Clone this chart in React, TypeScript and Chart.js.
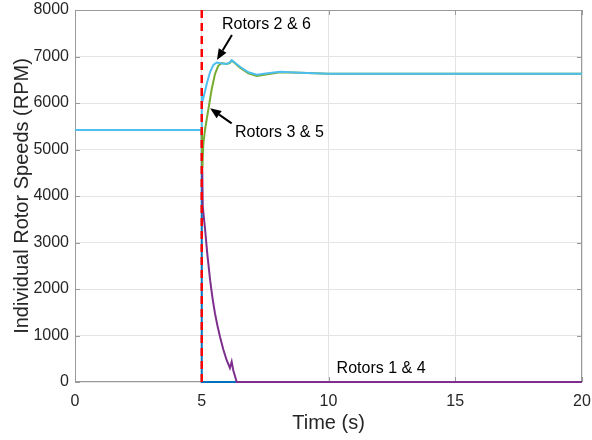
import { useEffect, useRef } from "react";
import { Chart, registerables } from "chart.js";

Chart.register(...registerables);

const W = 592;
const H = 440;
const FONT = '"Liberation Sans", Arial, Helvetica, sans-serif';

// Time axis (s) and speed axis (RPM)
const timeTicks = [0, 5, 10, 15, 20];
const rpmTicks = [0, 1000, 2000, 3000, 4000, 5000, 6000, 7000, 8000];

// Instant of the rotor failure
const failureTime = 5;

// Rotor 1: shut down at the failure instant
const rotor1Time = [0, 5, 5, 20];
const rotor1Rpm = [5420, 5420, 0, 0];

// Rotor 4: spins down after the failure
const rotor4Time = [0, 5, 5.04, 5.08, 5.13, 5.22, 5.33, 5.42, 5.52, 5.62, 5.72, 5.85, 5.98, 6.11, 6.18, 6.24, 6.38, 20];
const rotor4Rpm = [5420, 5420, 3780, 3550, 3290, 2750, 2190, 1820, 1480, 1210, 974, 700, 473, 301, 437, 258, 0, 0];

// Rotors 3 & 5
const rotor35Time = [0, 5, 5.02, 5.06, 5.13, 5.26, 5.39, 5.52, 5.65, 5.79, 5.98, 6.1, 6.18, 6.3, 6.51, 6.84, 7.17, 7.6, 8.09, 8.88, 10, 20];
const rotor35Rpm = [5420, 5420, 4600, 5100, 5430, 5860, 6290, 6620, 6800, 6860, 6840, 6860, 6910, 6860, 6760, 6640, 6580, 6620, 6660, 6650, 6630, 6630];

// Rotors 2 & 6
const rotor26Time = [0, 5, 5, 5.06, 5.2, 5.33, 5.46, 5.59, 5.8, 5.98, 6.1, 6.18, 6.3, 6.51, 6.84, 7.17, 7.6, 8.09, 8.88, 10, 20];
const rotor26Rpm = [5420, 5420, 6210, 6100, 6420, 6670, 6820, 6870, 6850, 6840, 6870, 6920, 6870, 6780, 6660, 6610, 6640, 6670, 6650, 6630, 6630];

// Callout labels: text, anchor (time, rpm) of the label's left-middle point
const calloutText = ["Rotors 2 & 6", "Rotors 3 & 5", "Rotors 1 & 4"];
const calloutTime = [5.8, 6.31, 10.32];
const calloutRpm = [7677, 5355, 280];

// Arrows: tail and head in (time, rpm)
const arrowTailTime = [6.19, 6.18];
const arrowTailRpm = [7462, 5563];
const arrowHeadTime = [5.6, 5.33];
const arrowHeadRpm = [6925, 5886];

const toPoints = (t: number[], v: number[]) => t.map((x, i) => ({ x, y: v[i] }));

const overlay = {
  id: "overlay",
  beforeDatasetsDraw(chart: any) {
    const { ctx, chartArea: a, scales } = chart;
    const xs = scales.x;
    const ys = scales.y;
    ctx.save();

    // Axes box
    ctx.strokeStyle = "#9a9a9a";
    ctx.lineWidth = 1;
    ctx.strokeRect(a.left + 0.5, a.top + 0.5, a.width - 1, a.height - 1);

    // Inward tick marks on all four sides
    const tl = 5;
    ctx.beginPath();
    timeTicks.forEach((t) => {
      const px = Math.round(xs.getPixelForValue(t)) + 0.5;
      ctx.moveTo(px, a.bottom);
      ctx.lineTo(px, a.bottom - tl);
      ctx.moveTo(px, a.top);
      ctx.lineTo(px, a.top + tl);
    });
    rpmTicks.forEach((v) => {
      const py = Math.round(ys.getPixelForValue(v)) + 0.5;
      ctx.moveTo(a.left, py);
      ctx.lineTo(a.left + tl, py);
      ctx.moveTo(a.right, py);
      ctx.lineTo(a.right - tl, py);
    });
    ctx.stroke();
    ctx.restore();
  },
  afterDatasetsDraw(chart: any) {
    const { ctx, scales } = chart;
    const xs = scales.x;
    const ys = scales.y;
    ctx.save();

    // Arrows
    ctx.strokeStyle = "#000";
    ctx.fillStyle = "#000";
    ctx.lineWidth = 2;
    arrowTailTime.forEach((t, i) => {
      const x0 = xs.getPixelForValue(t);
      const y0 = ys.getPixelForValue(arrowTailRpm[i]);
      const x1 = xs.getPixelForValue(arrowHeadTime[i]);
      const y1 = ys.getPixelForValue(arrowHeadRpm[i]);
      const ang = Math.atan2(y1 - y0, x1 - x0);
      const len = 11;
      const half = 4.5;
      const bx = x1 - len * Math.cos(ang);
      const by = y1 - len * Math.sin(ang);
      ctx.beginPath();
      ctx.moveTo(x0, y0);
      ctx.lineTo(bx, by);
      ctx.stroke();
      ctx.beginPath();
      ctx.moveTo(x1, y1);
      ctx.lineTo(bx + half * Math.sin(ang), by - half * Math.cos(ang));
      ctx.lineTo(bx - half * Math.sin(ang), by + half * Math.cos(ang));
      ctx.closePath();
      ctx.fill();
    });

    // Callout text
    ctx.font = `16px ${FONT}`;
    ctx.textAlign = "left";
    ctx.textBaseline = "middle";
    ctx.fillStyle = "#000";
    calloutText.forEach((s, i) => {
      ctx.fillText(s, xs.getPixelForValue(calloutTime[i]), ys.getPixelForValue(calloutRpm[i]));
    });

    ctx.restore();
  },
  afterDraw(chart: any) {
    const { ctx, chartArea: a } = chart;
    ctx.save();
    ctx.fillStyle = "#262626";
    ctx.font = `20px ${FONT}`;
    ctx.textAlign = "center";
    ctx.textBaseline = "middle";
    ctx.fillText("Time (s)", (a.left + a.right) / 2, 423);
    ctx.translate(22, (a.top + a.bottom) / 2);
    ctx.rotate(-Math.PI / 2);
    ctx.fillText("Individual Rotor Speeds (RPM)", 0, 0);
    ctx.restore();
  },
};

export default function App() {
  const ref = useRef<HTMLCanvasElement>(null);

  useEffect(() => {
    const canvas = ref.current;
    if (!canvas) return;
    const line = (data: any, color: string, extra: any = {}) => ({
      data,
      borderColor: color,
      backgroundColor: color,
      borderWidth: 2,
      pointRadius: 0,
      tension: 0,
      fill: false,
      clip: 3,
      ...extra,
    });
    const chart = new Chart(canvas, {
      type: "line",
      data: {
        datasets: [
          line(toPoints(rotor1Time, rotor1Rpm), "#0072BD", { order: 5 }),
          line(toPoints(rotor4Time, rotor4Rpm), "#7E2F8E", { order: 4 }),
          line(toPoints(rotor35Time, rotor35Rpm), "#77AC30", { order: 3 }),
          line(toPoints(rotor26Time, rotor26Rpm), "#4DBEEE", { order: 2 }),
          line(
            [
              { x: failureTime, y: rpmTicks[0] },
              { x: failureTime, y: rpmTicks[rpmTicks.length - 1] },
            ],
            "#FF0000",
            { order: 1, borderDash: [8, 5], borderWidth: 2.5 }
          ),
        ],
      },
      options: {
        responsive: false,
        devicePixelRatio: 1,
        animation: false,
        parsing: false,
        normalized: true,
        layout: { padding: { top: 10, right: 10, left: 0, bottom: 0 } },
        plugins: { legend: { display: false }, tooltip: { enabled: false } },
        scales: {
          x: {
            type: "linear",
            min: 0,
            max: 20,
            afterBuildTicks: (s: any) => {
              s.ticks = timeTicks.map((v) => ({ value: v }));
            },
            afterFit: (s: any) => {
              s.height = 58;
              s.paddingLeft = 0;
              s.paddingRight = 0;
            },
            ticks: {
              color: "#262626",
              font: { size: 16, family: FONT },
              padding: 10,
              maxRotation: 0,
              callback: (v: any) => String(v),
            },
            grid: { color: "#e4e4e4", drawTicks: false },
            border: { display: false },
          },
          y: {
            type: "linear",
            min: 0,
            max: 8000,
            afterBuildTicks: (s: any) => {
              s.ticks = rpmTicks.map((v) => ({ value: v }));
            },
            afterFit: (s: any) => {
              s.width = 75;
              s.paddingTop = 0;
              s.paddingBottom = 0;
            },
            ticks: {
              color: "#262626",
              font: { size: 16, family: FONT },
              padding: 6,
              callback: (v: any) => String(v),
            },
            grid: { color: "#e4e4e4", drawTicks: false },
            border: { display: false },
          },
        },
      },
      plugins: [overlay],
    } as any);
    return () => chart.destroy();
  }, []);

  return (
    <div style={{ position: "fixed", left: 0, top: 0, width: W, height: H, background: "#fff" }}>
      <canvas ref={ref} width={W} height={H} style={{ display: "block", width: W, height: H }} />
    </div>
  );
}
